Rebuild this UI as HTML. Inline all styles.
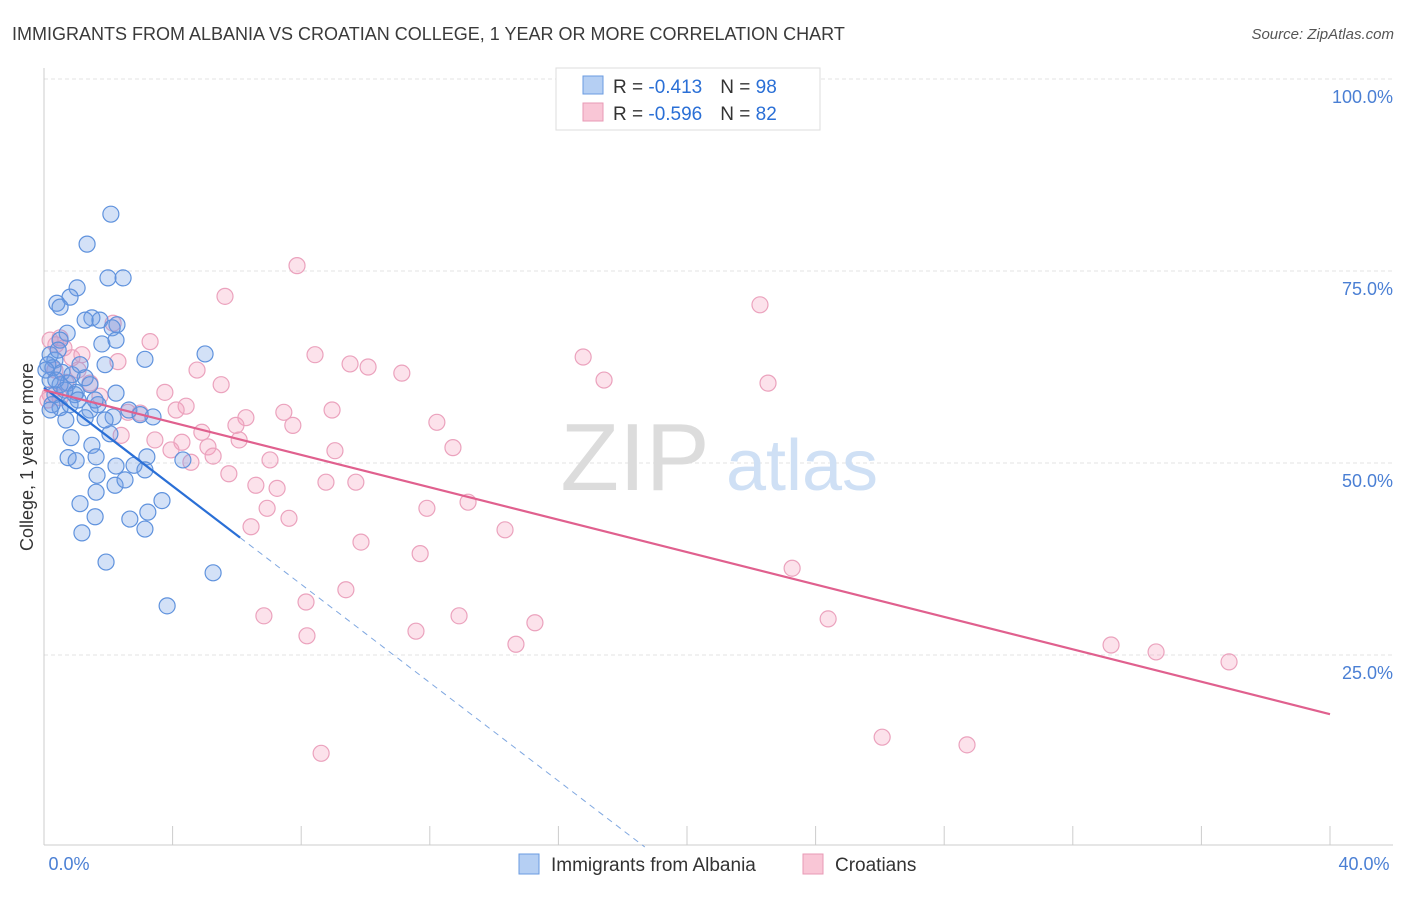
<!DOCTYPE html>
<html><head><meta charset="utf-8"><style>
body{margin:0;background:#fff;font-family:"Liberation Sans",sans-serif}
svg text{font-family:"Liberation Sans",sans-serif}
</style></head><body>
<svg id="chart" width="1406" height="892" viewBox="0 0 1406 892">
<text x="12" y="40" font-size="18" fill="#3a3a3a">IMMIGRANTS FROM ALBANIA VS CROATIAN COLLEGE, 1 YEAR OR MORE CORRELATION CHART</text>
<text x="1394" y="39" font-size="15" fill="#555" font-style="italic" text-anchor="end">Source: ZipAtlas.com</text>
<g id="grid"></g>
<g><text x="635" y="490" font-size="96" fill="#dcdcdc" font-family="Liberation Serif" text-anchor="middle">ZIP</text><text x="802" y="490" font-size="72" fill="#cfe0f5" text-anchor="middle">atlas</text></g>
<line x1="44" y1="68" x2="44" y2="845" stroke="#ccc"/>
<line x1="44" y1="845" x2="1393" y2="845" stroke="#ccc"/>
<g id="xticks"></g>
<g id="ylabels"></g>
<text x="69" y="870" font-size="18" fill="#4a7fd4" text-anchor="middle">0.0%</text>
<text x="1364" y="870" font-size="18" fill="#4a7fd4" text-anchor="middle">40.0%</text>
<text transform="translate(33,457) rotate(-90)" font-size="18" fill="#333" text-anchor="middle">College, 1 year or more</text>
<g id="pinkpts"></g>
<g id="bluepts"></g>
<g id="lines"></g>
<g>
<rect x="556" y="68" width="264" height="62" fill="#fff" stroke="#ddd"/>
<rect x="583" y="76" width="20" height="18" fill="#b5cff3" stroke="#6a9be0"/>
<rect x="583" y="103" width="20" height="18" fill="#f9c6d6" stroke="#e89ab5"/>
<text x="613" y="93" font-size="19" fill="#333">R = <tspan fill="#2a6fd6">-0.413</tspan><tspan dx="18">N = </tspan><tspan fill="#2a6fd6">98</tspan></text>
<text x="613" y="120" font-size="19" fill="#333">R = <tspan fill="#2a6fd6">-0.596</tspan><tspan dx="18">N = </tspan><tspan fill="#2a6fd6">82</tspan></text>
</g>
<g>
<rect x="519" y="854" width="20" height="20" fill="#b5cff3" stroke="#6a9be0"/>
<text x="551" y="871" font-size="19" fill="#333">Immigrants from Albania</text>
<rect x="803" y="854" width="20" height="20" fill="#f9c6d6" stroke="#e89ab5"/>
<text x="835" y="871" font-size="19" fill="#333">Croatians</text>
</g>
</svg>
<script>
const blueX=[2.08,1.34,1.99,2.46,1.03,0.81,0.40,0.50,1.49,1.28,1.74,2.27,2.12,0.72,0.50,1.80,2.24,5.01,3.14,0.19,0.34,1.90,0.28,0.56,1.28,0.75,1.43,1.00,2.24,0.34,0.96,1.68,1.43,0.50,2.15,2.64,3.39,0.68,1.28,2.99,2.05,0.84,1.49,3.20,0.75,1.62,1.00,2.24,2.80,4.32,3.14,1.65,2.21,2.52,1.62,1.12,3.23,3.67,1.59,2.67,3.14,1.18,1.93,5.26,3.83,0.25,0.19,0.12,0.06,0.50,0.87,1.12,0.37,0.65,1.06,0.81,1.59,1.90,0.19,0.44];
const blueY=[82.4,78.5,74.1,74.1,72.8,71.6,70.8,70.3,68.9,68.6,68.6,68.0,67.6,66.9,66.0,65.5,66.0,64.2,63.5,64.1,63.4,62.8,62.4,61.8,61.1,60.4,60.2,59.2,59.1,58.9,58.9,57.6,56.9,57.2,56.0,56.9,56.0,55.6,55.9,56.3,53.8,53.3,52.3,50.8,50.7,50.8,50.3,49.6,49.7,50.4,49.1,48.4,47.1,47.8,46.2,44.7,43.6,45.1,43.0,42.7,41.4,40.9,37.1,35.7,31.4,57.6,60.8,62.8,62.1,60.2,61.5,62.8,60.8,59.5,58.2,57.6,58.2,55.6,56.9,64.7];
const pinkX=[7.87,5.63,22.27,2.15,0.50,3.30,8.43,16.77,0.87,2.30,9.52,10.08,4.76,11.13,22.52,17.42,5.51,1.43,3.76,1.74,4.42,2.61,4.11,8.96,7.46,2.99,6.28,7.74,12.22,5.97,4.91,2.40,3.45,4.29,6.07,12.72,5.10,9.05,3.95,5.26,7.03,4.57,5.75,8.77,9.70,6.59,7.25,13.19,11.91,6.94,7.62,6.44,14.34,9.86,11.70,23.27,9.39,8.15,6.84,12.91,24.39,15.27,11.57,8.18,14.68,33.19,34.59,36.86,26.07,28.71,8.62,0.19,0.37,0.62,1.18,0.34,0.19,0.68,0.50,0.12,1.06];
const pinkY=[75.7,71.7,70.6,68.2,66.3,65.8,64.1,63.8,63.7,63.2,62.9,62.5,62.1,61.7,60.4,60.8,60.2,60.4,59.2,58.7,57.4,56.6,56.9,56.9,56.6,56.5,55.9,54.9,55.3,54.9,54.0,53.6,53.0,52.7,53.0,52.0,52.1,51.6,51.7,50.9,50.4,50.1,48.6,47.5,47.5,47.1,46.7,44.9,44.1,44.1,42.8,41.7,41.3,39.7,38.2,36.3,33.5,31.9,30.1,30.1,29.7,29.2,28.1,27.5,26.4,26.3,25.4,24.1,14.3,13.3,12.2,66.0,65.4,65.0,64.1,62.1,58.9,60.5,58.5,58.2,62.1];
const yTicks=[100,75,50,25];
const yTickLabels=["100.0%","75.0%","50.0%","25.0%"];
const xTicks=[0,4,8,12,16,20,24,28,32,36,40];
const blueFit=[59.8,-3.2];  // intercept, slope
const blueSolidEnd=6.1;
const pinkFit=[59.5,-1.055];
const NS="http://www.w3.org/2000/svg";
const sx=v=>44+v*32.15, sy=v=>847-v*7.68;
function mk(tag,attrs,parent){const e=document.createElementNS(NS,tag);for(const k in attrs)e.setAttribute(k,attrs[k]);parent.appendChild(e);return e;}
const grid=document.getElementById('grid'),yl=document.getElementById('ylabels'),xt=document.getElementById('xticks');
yTicks.forEach((t,i)=>{
 const l=mk('line',{x1:44,x2:1393,y1:sy(t),y2:sy(t),stroke:'#e3e3e3','stroke-dasharray':'4,3'},grid);
 
 
 const tx=mk('text',{x:1393,y:sy(t)+24,'font-size':18,fill:'#4a7fd4','text-anchor':'end'},yl);
 tx.textContent=yTickLabels[i];
 
 
});
xTicks.forEach(t=>{
 const l=mk('line',{x1:sx(t),x2:sx(t),y1:826,y2:845,stroke:'#ccc'},xt);
 
 
});
const pp=document.getElementById('pinkpts');
pinkX.forEach((x,i)=>{
 const c=mk('circle',{cx:sx(x),cy:sy(pinkY[i]),r:8,fill:'rgba(244,160,190,0.3)',stroke:'#eba2bd','stroke-width':1.2},pp);
 
 
});
const bp=document.getElementById('bluepts');
blueX.forEach((x,i)=>{
 const c=mk('circle',{cx:sx(x),cy:sy(blueY[i]),r:8,fill:'rgba(110,155,230,0.3)',stroke:'#5f92dd','stroke-width':1.2},bp);
 
 
});
const lg=document.getElementById('lines');
const bf=x=>blueFit[0]+blueFit[1]*x, pf=x=>pinkFit[0]+pinkFit[1]*x;
const bZero=-blueFit[0]/blueFit[1];
const l1=mk('line',{x1:sx(0),y1:sy(bf(0)),x2:sx(blueSolidEnd),y2:sy(bf(blueSolidEnd)),stroke:'#2a6fd6','stroke-width':2.2},lg);


const l2=mk('line',{x1:sx(blueSolidEnd),y1:sy(bf(blueSolidEnd)),x2:sx(bZero),y2:sy(0),stroke:'#7fa7e0','stroke-width':1,'stroke-dasharray':'6,5'},lg);


const l3=mk('line',{x1:sx(0),y1:sy(pf(0)),x2:sx(40),y2:sy(pf(40)),stroke:'#e0608e','stroke-width':2.2},lg);


</script>
</body></html>
